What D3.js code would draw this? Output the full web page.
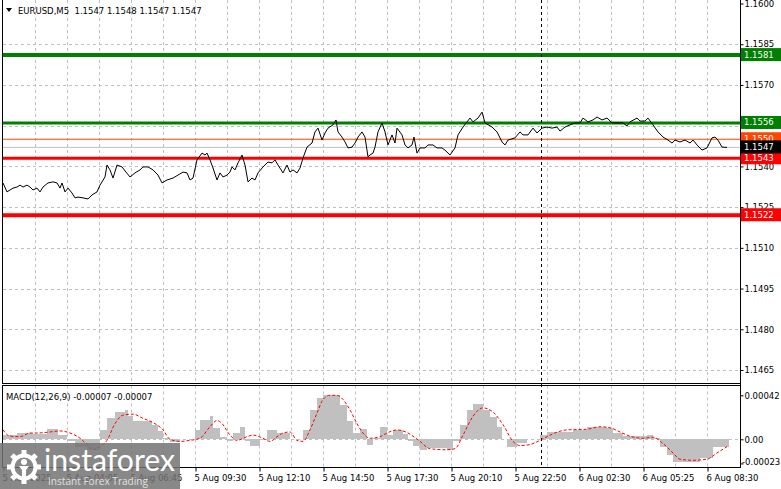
<!DOCTYPE html>
<html><head><meta charset="utf-8">
<script src="https://cdn.jsdelivr.net/npm/d3@7"></script>
<style>
body{margin:0;background:#fff}
svg{display:block}
text{font-family:"DejaVu Sans",sans-serif;font-size:8.5px}
</style>
</head><body>
<svg id="c" width="781" height="489"></svg>
<script>
// ---------- DATA ----------
const symbolTitle = "EURUSD,M5  1.1547 1.1548 1.1547 1.1547";
const macdTitle = "MACD(12,26,9) -0.00007 -0.00007";

// bar index (M5 bars from chart start) and close price
const priceBars = [0,2,3.5,5,7,8.5,10,12,13.5,15,17,18.5,20,22.5,25,27,28.5,29.5,31,32.5,34.5,36,37.5,40,42.5,44.5,47,48.5,51,52,53.5,55,57,59.5,61.5,63.5,66,68.5,70,72.5,75,77.5,79.5,82,85,87.5,90,92,
93.5,95,97,99.5,101,102,103.5,105,107,108.5,110,112,113.5,114.5,116,117.5,119.5,121,122.5,124.5,126,127.5,130,132.5,134.5,136,137.5,140,142,143.5,145,147,148.5,150,152,154.5,156,157.5,159.5,161,162.5,165,166.5,167.5,169.5,171,172.5,174.5,176,177.5,179.5,181,182.5,183.5,
185,186,187.5,189.5,191,192.5,194.5,196,197,199.5,201,202.5,204.5,205.5,207,208.5,211,212.5,215,217,219.5,221,223.5,226,227.5,230,233.5,235,237.5,239.5,241,244.5,247,249.5,251,252.5,256,258.5,260,262.5,265,267,269.5,272,274.5,277,
278.5,281,283.5,286,288.5,290,292.5,295,297,299.5,302,304.5,307.5,310,312,313.5,317,318.5,321,322.5,325,327.5,330,332.5,334.5,336,338.5,341,343.5,345,347,349.5,352,354.5,356,357.5,359.5,362];
const priceCloses = [1.15339,1.15306,1.15313,1.15320,1.15324,1.15331,1.15324,1.15331,1.15324,1.15313,1.15320,1.15306,1.15324,1.15339,1.15343,1.15339,1.15320,1.15339,1.15306,1.15320,1.15302,1.15284,1.15287,1.15284,1.15280,1.15295,1.15306,1.15331,1.15361,1.15405,1.15387,1.15357,1.15405,1.15398,1.15379,1.15361,1.15376,1.15387,1.15398,1.15398,1.15387,1.15368,1.15339,1.15350,1.15357,1.15368,1.15379,1.15376,
1.15350,1.15357,1.15424,1.15449,1.15442,1.15449,1.15424,1.15394,1.15350,1.15376,1.15361,1.15368,1.15379,1.15398,1.15387,1.15413,1.15442,1.15405,1.15343,1.15357,1.15350,1.15376,1.15398,1.15416,1.15413,1.15424,1.15405,1.15376,1.15405,1.15379,1.15387,1.15376,1.15394,1.15431,1.15471,1.15486,1.15527,1.15541,1.15497,1.15523,1.15541,1.15553,1.15571,1.15527,1.15508,1.15490,1.15468,1.15471,1.15486,1.15508,1.15527,1.15508,1.15435,1.15442,
1.15449,1.15471,1.15527,1.15560,1.15527,1.15479,1.15516,1.15486,1.15541,1.15516,1.15479,1.15468,1.15479,1.15508,1.15449,1.15468,1.15468,1.15479,1.15479,1.15468,1.15468,1.15460,1.15442,1.15468,1.15516,1.15545,1.15578,1.15564,1.15578,1.15600,1.15560,1.15545,1.15527,1.15490,1.15479,1.15497,1.15505,1.15527,1.15516,1.15516,1.15541,1.15523,1.15541,1.15545,1.15541,1.15545,
1.15530,1.15545,1.15553,1.15560,1.15560,1.15578,1.15564,1.15571,1.15582,1.15571,1.15578,1.15560,1.15560,1.15560,1.15549,1.15564,1.15578,1.15567,1.15567,1.15578,1.15553,1.15527,1.15508,1.15497,1.15486,1.15497,1.15490,1.15497,1.15486,1.15497,1.15479,1.15460,1.15468,1.15505,1.15508,1.15497,1.15471,1.15470];

// MACD histogram (value in 1e-5), each value holds from its bar to the next
const histBars = [0,7,15,22,27.5,32,36,42,48.5,52,56,61,62.5,65,74.5,77.5,80,83.5,88.5,96,98.5,103.5,105,108.5,112,115,118.5,121,123.5,128.5,132,137,143.5,150,153.5,157,160,168.5,172,175,178.5,182,185,188.5,192,195,200,202.5,205,208.5,212,222,225,228.5,232,235,240,243.5,247,249.5,252,257,262,268.5,272,285,292,302,305,310,322,325,328.5,332,335,348.5,355];
const histValues = [4,6,5,10,4,-2,-7,-10,9,20,26,28,22,17,14,8,1,-3,0,9,18,22,11,2,-2,6,12,-2,-6,-1,9,6,0,9,28,39,42,33,17,6,10,-5,1,12,4,9,5,-2,-6,-10,-8,-10,-2,14,28,34,28,21,12,0,-7,-4,0,4,7,9,12,11,6,3,4,1,-7,-15,-22,-18,-7];
const histEndBar = 363;

// MACD signal line (value in 1e-5)
const signalBars = [0,3.5,8.5,13.5,17,23.5,28.5,33.5,38.5,42,45,48.5,52,56,60,65,70,75,80,83.5,88.5,93.5,98.5,103.5,107,109.5,113.5,117,122,125,130,133.5,137,140,143.5,147,150,153.5,157,160,163.5,167,170,173.5,177,180,183.5,188.5,192,197,202.5,208.5,213.5,222,226,230,235,240,245,250,255,258.5,263.5,268.5,273.5,282,292,298.5,303.5,308.5,313.5,320,325,330,335,338.5,345,352,357,362];
const signalValues = [9,3,2.5,6,6,7,8,6,1,-5,-10,-7,-1,15,23,24,20,16,9,0,-2,-1,1,12,18,15,4,-1,2.5,4,1,-2,2.5,6,7,-1,-2,9,25,38,42,42,38,28,15,6,1,2.5,6,9,6,-2,-9,-10,-9,4,22,30,26,14,-2,-6,-5,-1,4,9,9.6,12,11,7,3,1,2,-4,-13,-19,-20,-19,-13,-7];

const priceTicks = [1.1600,1.1585,1.1570,1.1555,1.1540,1.1525,1.1510,1.1495,1.1480,1.1465];
const timeTickBars = [0,32,64,96,128,160,192,224,256,288,320,352];
const timeTickLabels = ["5 Aug 2025","5 Aug 04:05","5 Aug 06:45","5 Aug 09:30","5 Aug 12:10","5 Aug 14:50","5 Aug 17:30","5 Aug 20:10","5 Aug 22:50","6 Aug 02:30","6 Aug 05:25","6 Aug 08:30"];
const macdTicks = [42,0,-23];
const macdTickLabels = ["0.00042","0.00","-0.00023"];

const levelValues = [1.1581,1.1556,1.1550,1.1547,1.1543,1.1522];
const levelLabels = ["1.1581","1.1556","1.1550","1.1547","1.1543","1.1522"];
const cursorBar = 269;

// ---------- STYLE ----------
const levelLineColors = ["#008000","#008000","#ff4500","#c0c0c0","#ff0000","#ff0000"];
const levelBoxColors  = ["#008000","#008000","#ff4500","#000000","#ff0000","#ff0000"];
const levelWidths = [4,3,1,1,3,4];

// ---------- DRAW ----------
const svg = d3.select("#c");
const X0 = 3, X1 = 740;
const mainTop = 0, mainBot = 383.5, macdTop = 385.5, macdBot = 467.5;

const x = d3.scaleLinear().domain([0, 368.5]).range([X0, X1]);
const yP = d3.scaleLinear().domain([1.1465, 1.1600]).range([370, 3.5]);
const yM = d3.scaleLinear().domain([-23, 42]).range([463.4, 395.3]);

const px = v => Math.round(v) + 0.5;

// grid
const grid = svg.append("g").attr("stroke","#c0c0c0").attr("stroke-dasharray","3,3").attr("fill","none");
d3.range(16, 353, 16).forEach(b => {
  grid.append("line").attr("x1",px(x(b))).attr("x2",px(x(b))).attr("y1",mainTop).attr("y2",mainBot);
  grid.append("line").attr("x1",px(x(b))).attr("x2",px(x(b))).attr("y1",macdTop).attr("y2",macdBot);
});
priceTicks.slice(1).forEach(p => {
  grid.append("line").attr("x1",X0).attr("x2",X1).attr("y1",px(yP(p))).attr("y2",px(yP(p)));
});
grid.append("line").attr("x1",X0).attr("x2",X1).attr("y1",px(yM(0))).attr("y2",px(yM(0)));

// price axis
const pAxis = svg.append("g").attr("transform",`translate(${X1+0.5},0)`)
  .call(d3.axisRight(yP).tickValues(priceTicks).tickFormat(d3.format(".4f")).tickSize(3).tickPadding(1));
pAxis.select(".domain").remove();
pAxis.selectAll("text").style("font-size","8.5px").style("font-family","DejaVu Sans").attr("fill","#000");
pAxis.selectAll("line").attr("stroke","#000");

// macd axis
const mAxis = svg.append("g").attr("transform",`translate(${X1+0.5},0)`)
  .call(d3.axisRight(yM).tickValues(macdTicks).tickFormat((d,i)=>macdTickLabels[i]).tickSize(3).tickPadding(1));
mAxis.select(".domain").remove();
mAxis.selectAll("text").style("font-size","8.5px").style("font-family","DejaVu Sans").attr("fill","#000")
  .attr("y",(d)=> d===-23 ? -2 : 0)
  .attr("x",(d)=> d===-23 ? 1.5 : 4);
mAxis.selectAll("line").attr("stroke","#000");

// time axis
const tAxis = svg.append("g").attr("transform",`translate(0,${macdBot})`)
  .call(d3.axisBottom(x).tickValues(timeTickBars).tickFormat((d,i)=>timeTickLabels[i]).tickSize(4).tickPadding(3));
tAxis.select(".domain").remove();
tAxis.selectAll("text").style("font-size","8.5px").style("font-family","DejaVu Sans").attr("fill","#000")
  .attr("text-anchor","start").attr("x",-1);
tAxis.selectAll("line").attr("stroke","#000").attr("transform","translate(0.5,0)");

// level lines
levelValues.forEach((v,i) => {
  svg.append("line").attr("x1",X0).attr("x2",X1)
    .attr("y1",yP(v)).attr("y2",yP(v))
    .attr("stroke",levelLineColors[i]).attr("stroke-width",levelWidths[i]);
});

// price line
const line = d3.line().x((d,i)=>x(priceBars[i])).y(d=>yP(d));
svg.append("path").datum(priceCloses).attr("d",line)
  .attr("fill","none").attr("stroke","#000").attr("stroke-width",1);

// MACD histogram
svg.append("g").selectAll("rect").data(histValues).join("rect")
  .attr("x",(d,i)=>x(histBars[i]))
  .attr("width",(d,i)=>x(i+1<histBars.length?histBars[i+1]:histEndBar)-x(histBars[i]))
  .attr("y",d=>Math.min(yM(d),yM(0)))
  .attr("height",d=>Math.abs(yM(d)-yM(0)))
  .attr("fill","#c0c0c0").attr("shape-rendering","crispEdges");

// MACD signal
const sline = d3.line().x((d,i)=>x(signalBars[i])).y(d=>yM(d)).curve(d3.curveMonotoneX);
svg.append("path").datum(signalValues).attr("d",sline)
  .attr("fill","none").attr("stroke","#ff0000").attr("stroke-width",1).attr("stroke-dasharray","3,2");

// borders
const bd = svg.append("g").attr("stroke","#000").attr("fill","none").attr("shape-rendering","crispEdges");
bd.append("line").attr("x1",2.5).attr("x2",2.5).attr("y1",0).attr("y2",mainBot);
bd.append("line").attr("x1",2.5).attr("x2",2.5).attr("y1",macdTop).attr("y2",macdBot);
bd.append("line").attr("x1",X1+0.5).attr("x2",X1+0.5).attr("y1",0).attr("y2",macdBot);
bd.append("line").attr("x1",2).attr("x2",X1+1).attr("y1",mainBot).attr("y2",mainBot);
bd.append("line").attr("x1",2).attr("x2",X1+1).attr("y1",macdTop).attr("y2",macdTop);
bd.append("line").attr("x1",2).attr("x2",X1+1).attr("y1",macdBot).attr("y2",macdBot);

// cursor dashed line
svg.append("line").attr("x1",px(x(cursorBar))).attr("x2",px(x(cursorBar)))
  .attr("y1",0).attr("y2",macdBot).attr("stroke","#000").attr("stroke-dasharray","3,3");

// level boxes (bid box last)
const order = [0,1,2,4,5,3];
order.forEach(i => {
  const v = levelValues[i];
  svg.append("rect").attr("x",X1+1).attr("y",yP(v)-7).attr("width",781-X1-1).attr("height",13)
    .attr("fill",levelBoxColors[i]);
  svg.append("text").attr("x",744).attr("y",yP(v)-0.5).attr("dy","0.35em")
    .attr("fill","#fff").text(levelLabels[i]);
});

// titles
svg.append("path").attr("d","M6,8 L12,8 L9,12 Z").attr("fill","#000");
svg.append("text").attr("x",18).attr("y",14).style("white-space","pre").text(symbolTitle);
svg.append("text").attr("x",6).attr("y",400).text(macdTitle);

// logo
const lg = svg.append("g");
lg.append("rect").attr("x",0).attr("y",443).attr("width",180).attr("height",46)
  .attr("fill","rgb(115,115,115)").attr("opacity",0.85);
const gc = [24,467];
for (let k=0;k<8;k++){
  lg.append("rect").attr("x",gc[0]-2.5).attr("y",gc[1]-17).attr("width",5).attr("height",6)
    .attr("fill","#fff").attr("transform",`rotate(${k*45},${gc[0]},${gc[1]})`);
}
lg.append("circle").attr("cx",gc[0]).attr("cy",gc[1]).attr("r",11.5).attr("fill","none").attr("stroke","#fff").attr("stroke-width",4);
lg.append("circle").attr("cx",gc[0]).attr("cy",gc[1]-5).attr("r",3).attr("fill","#fff");
lg.append("path").attr("d",`M${gc[0]-5},${gc[1]-1} L${gc[0]+5},${gc[1]-1} L${gc[0]+2},${gc[1]+3} L${gc[0]+2},${gc[1]+12} L${gc[0]-2},${gc[1]+12} L${gc[0]-2},${gc[1]+3} Z`).attr("fill","#fff");
lg.append("text").attr("x",44).attr("y",471).attr("fill","#fff")
  .style("font-family","Lato, 'Open Sans', sans-serif").style("font-size","31px")
  .attr("textLength",131).attr("lengthAdjust","spacingAndGlyphs").text("instaforex");
lg.append("text").attr("x",48).attr("y",485).attr("fill","#e0e0e0")
  .style("font-family","'Open Sans', sans-serif").style("font-size","11.5px")
  .attr("textLength",100).attr("lengthAdjust","spacingAndGlyphs").text("Instant Forex Trading");
</script>
</body></html>
